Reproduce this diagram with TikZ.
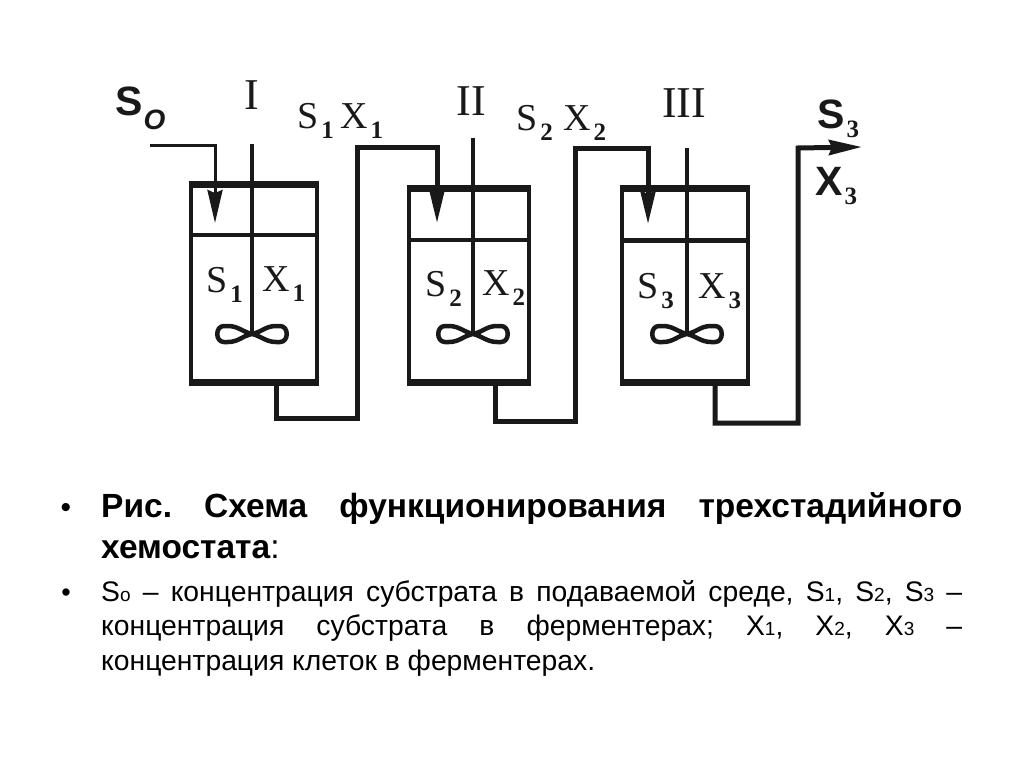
\documentclass[tikz,border=0pt]{standalone}
\usepackage{fontspec}
\setmainfont{Liberation Sans}
\newfontfamily\labfont{Liberation Serif}
\usetikzlibrary{arrows.meta}
\definecolor{inkgray}{gray}{0.1}
\newcommand{\lab}[2]{{\labfont\fontsize{38}{38}\selectfont #1\kern3pt\raisebox{-10pt}{\fontsize{25}{25}\selectfont\bfseries #2}}}
\newcommand{\bolab}[2]{{\bfseries\fontsize{41}{41}\selectfont #1\kern2pt\raisebox{-9pt}{\labfont\fontsize{25}{25}\selectfont #2}}}
\newcommand{\low}[1]{{\fontsize{19}{19}\selectfont #1}}
\tikzset{
every picture/.style={
x=1pt, y=-1pt
},
tank/.style={draw=inkgray, line width=4pt, inner sep=0pt, outer sep=0pt},
wall/.style={draw=inkgray, line width=7pt},
shaft/.style={draw=inkgray, line width=4.5pt},
pipe/.style={draw=inkgray, line width=5pt, -{Stealth[length=33pt, width=15pt, inset=3pt]}},
lab/.style={anchor=base west, inner sep=0pt, text=inkgray},
roman/.style={inner sep=0pt, text=inkgray, font=\labfont\fontsize{44}{44}\selectfont},
impeller/.pic={
  \draw[draw=inkgray, line width=4.5pt, rounded corners=2pt]
    (0,0) .. controls (-9,-2) and (-14,-8) .. (-26,-8) .. controls (-37,-8) and (-37,8) .. (-26,8) .. controls (-14,8) and (-9,2) .. (0,0)
    .. controls (9,-2) and (14,-8) .. (26,-8) .. controls (37,-8) and (37,8) .. (26,8) .. controls (14,8) and (9,2) .. (0,0);
}
}

\begin{document}
\begin{tikzpicture}
\useasboundingbox[fill=white] (0,0) rectangle (1024,768);

% tanks
\foreach \n/\cx/\cy/\tw/\th/\sx/\sy/\dv in {1/253.5/283/126/198/252/144/51, 2/468.5/285/120/194/473/138/52, 3/684.5/285.5/126/194/687/148/52}{
  \node[tank, minimum width=\tw, minimum height=\th] (t\n) at (\cx,\cy) {};
  \draw[wall] ([xshift=-2]t\n.north west) -- ([xshift=2]t\n.north east);
  \draw[wall] ([xshift=-2]t\n.south west) -- ([xshift=2]t\n.south east);
  \draw[shaft] ([yshift=-\dv]t\n.north west) -- ([yshift=-\dv]t\n.north east);
  \coordinate (s\n) at (\sx,\sy);
  \coordinate (c\n) at (\sx,334);
  \draw[shaft] (s\n) -- (c\n);
  \pic at (c\n) {impeller};
}

% pipes
\coordinate (feed) at (150,145);
\coordinate (in1) at (215,223);
\coordinate (in2) at (437,223);
\coordinate (in3) at (648,224);
\coordinate (out1) at (276,418);
\coordinate (out2) at (495,421);
\coordinate (out3) at (715,423);
\coordinate (top1) at (357,147);
\coordinate (top2) at (575,148);
\coordinate (top3) at (798,148);
\coordinate (exit) at (862,147);

\draw[pipe, line width=3pt] (feed) -| (in1);
\draw[pipe] (t1.south -| out1) -- (out1) -| (top1) -| (in2);
\draw[pipe] (t2.south -| out2) -- (out2) -| (top2) -| (in3);
\draw[pipe] (t3.south -| out3) -- (out3) -| (top3) -- (exit);

% labels
\node[roman] (r1) at (252,95) {I};
\node[roman] (r2) at (471,101) {II};
\node[roman] (r3) at (684,103) {III};

\foreach \x/\y/\a/\b/\nm in {297/128/S/1/a1, 340/128/X/1/a2, 516/130/S/2/a3, 563/130/X/2/a4, 206/292/S/1/b1, 262/291/X/1/b2, 425/296/S/2/b3, 482/295/X/2/b4, 637/298/S/3/b5, 698/298/X/3/b6}{
  \node[lab] (\nm) at (\x,\y) {\lab{\a}{\b}};
}

\node[lab] (so) at (115,115) {{\bfseries\fontsize{41}{41}\selectfont S\kern1pt\raisebox{-14pt}{\fontsize{28}{28}\selectfont\itshape O}}};
\node[lab] (s3) at (817,128) {\bolab{S}{3}};
\node[lab] (x3) at (815,195) {\bolab{X}{3}};

% caption
\node[inner sep=0pt, text=black] (bul1) at (66,510) {\fontsize{30}{30}\selectfont •};
\node[inner sep=0pt, text=black] (bul2) at (66,595) {\fontsize{27}{27}\selectfont •};
\node[anchor=north west, inner sep=0pt, text width=861pt, align=justify, font=\fontsize{33.5}{41}\selectfont\frenchspacing] (cap) at (101,492)
  {\textbf{Рис. Схема функционирования трехстадийного}\linebreak \textbf{хемостата}:};
\node[anchor=north west, inner sep=0pt, text width=861pt, align=justify, font=\fontsize{28.3}{34.5}\selectfont\frenchspacing] (txt) at (101,580)
  {S\low{o} – концентрация субстрата в подаваемой среде, S\low{1}, S\low{2}, S\low{3} –\linebreak
   концентрация субстрата в ферментерах; X\low{1}, X\low{2}, X\low{3} –\linebreak
   концентрация клеток в ферментерах.};
\end{tikzpicture}
\end{document}
